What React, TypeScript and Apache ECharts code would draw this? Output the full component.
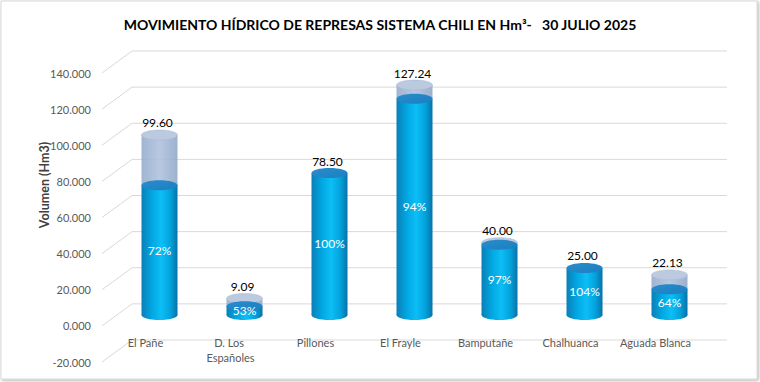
import React, { useEffect, useRef } from "react";
import * as echarts from "echarts";

const title = "MOVIMIENTO HÍDRICO DE REPRESAS SISTEMA CHILI EN Hm³-   30 JULIO 2025";
const yAxisName = "Volumen (Hm3)";
const categories = ["El Pañe", "D. Los Españoles", "Pillones", "El Frayle", "Bamputañe", "Chalhuanca", "Aguada Blanca"];
const capacity = [99.6, 9.09, 78.5, 127.24, 40.0, 25.0, 22.13];
const volume = [71.7, 4.8, 78.5, 119.6, 38.8, 26.0, 14.2];
const percent = [72, 53, 100, 94, 97, 104, 64];
const yTicks = [-20, 0, 20, 40, 60, 80, 100, 120, 140];

const FONT = "Lato, 'Open Sans', sans-serif";
const DX = 30;
const DY = -22;
const RX = 18;
const RY = 5;

export default function App() {
  const ref = useRef<HTMLDivElement>(null);
  useEffect(() => {
    if (!ref.current) return;
    const chart = echarts.init(ref.current, undefined, { renderer: "svg" });
    const n = categories.length;

    const bodyGrad = () =>
      new echarts.graphic.LinearGradient(0, 0, 1, 0, [
        { offset: 0, color: "#0a7fb8" },
        { offset: 0.3, color: "#02a8e2" },
        { offset: 0.55, color: "#0dbef6" },
        { offset: 0.8, color: "#03a2dc" },
        { offset: 1, color: "#0772a8" },
      ]);
    const grayGrad = () =>
      new echarts.graphic.LinearGradient(0, 0, 1, 0, [
        { offset: 0, color: "rgba(150,172,204,0.9)" },
        { offset: 0.5, color: "rgba(176,194,222,0.9)" },
        { offset: 1, color: "rgba(146,168,200,0.9)" },
      ]);

    const gridData = yTicks.map((v) => [0, v]);
    const cylData = categories.map((_, i) => [i, volume[i], capacity[i], percent[i]]);

    const option: any = {
      animation: false,
      backgroundColor: "transparent",
      title: {
        text: title,
        left: "center",
        top: 12,
        textStyle: { fontFamily: FONT, fontSize: 14, fontWeight: "bold", color: "#000" },
      },
      grid: { left: 102, right: 63, top: 73, bottom: 20 },
      xAxis: {
        type: "category",
        data: categories,
        show: false,
      },
      yAxis: {
        type: "value",
        min: yTicks[0],
        max: yTicks[yTicks.length - 1],
        interval: yTicks[1] - yTicks[0],
        axisLine: { show: false },
        axisTick: { show: false },
        splitLine: { show: false },
        axisLabel: {
          margin: 11,
          color: "#595959",
          fontFamily: FONT,
          fontSize: 11,
          formatter: (v: number) => v.toFixed(3),
        },
      },
      graphic: [
        {
          type: "rect",
          shape: { x: 1, y: 1, width: 756, height: 378 },
          style: { fill: "#fff", stroke: "#d9d9d9", lineWidth: 1, shadowBlur: 3, shadowOffsetX: 1, shadowOffsetY: 1, shadowColor: "rgba(0,0,0,0.35)" },
          z: -10,
          silent: true,
        },
        {
          type: "text",
          x: 44,
          y: 185,
          rotation: Math.PI / 2,
          style: {
            text: yAxisName,
            fill: "#404040",
            font: `bold 12.5px ${FONT}`,
            align: "center",
            verticalAlign: "middle",
          },
        },
      ],
      series: [
        {
          type: "custom",
          z: 1,
          silent: true,
          data: gridData,
          renderItem: (params: any, api: any) => {
            const v = api.value(1);
            const band = api.size([1, 0])[0];
            const p0 = api.coord([0, v]);
            const p1 = api.coord([n - 1, v]);
            const x0 = p0[0] - band / 2;
            const x1 = p1[0] + band / 2;
            const y = p0[1];
            return {
              type: "polyline",
              shape: { points: [[x0, y], [x0 + DX, y + DY], [x1 + DX, y + DY]] },
              style: { stroke: "#d9d9d9", lineWidth: 1, fill: null },
            };
          },
        },
        {
          type: "custom",
          z: 2,
          silent: true,
          data: categories.map((c, i) => [i, yTicks[0]]),
          renderItem: (params: any, api: any) => {
            const i = params.dataIndex;
            const p = api.coord([i, 0]);
            const pb = api.coord([i, yTicks[0]]);
            return {
              type: "text",
              style: {
                text: categories[i],
                x: p[0] + 1,
                y: (p[1] + pb[1]) / 2 - 9,
                width: 74,
                overflow: "break",
                fill: "#595959",
                font: `11px ${FONT}`,
                align: "center",
                verticalAlign: "top",
                lineHeight: 15,
              },
            };
          },
        },
        {
          type: "custom",
          z: 3,
          silent: true,
          data: cylData,
          renderItem: (params: any, api: any) => {
            const i = api.value(0);
            const vol = api.value(1);
            const cap = api.value(2);
            const pct = api.value(3);
            const base = api.coord([i, 0]);
            const xc = base[0] + DX / 2;
            const y0 = base[1] + DY / 2;
            const yv = api.coord([i, vol])[1] + DY / 2;
            const yc = api.coord([i, cap])[1] + DY / 2;
            const children: any[] = [];
            if (cap > vol) {
              children.push({
                type: "rect",
                shape: { x: xc - RX, y: yc, width: RX * 2, height: yv - yc },
                style: { fill: grayGrad() },
              });
              children.push({
                type: "ellipse",
                shape: { cx: xc, cy: yc, rx: RX, ry: RY },
                style: { fill: "#bccae0", stroke: "rgba(160,180,210,0.9)", lineWidth: 0.5 },
              });
            }
            children.push({
              type: "ellipse",
              shape: { cx: xc, cy: y0, rx: RX, ry: RY },
              style: { fill: bodyGrad() },
            });
            children.push({
              type: "rect",
              shape: { x: xc - RX, y: yv, width: RX * 2, height: y0 - yv },
              style: { fill: bodyGrad() },
            });
            children.push({
              type: "ellipse",
              shape: { cx: xc, cy: yv, rx: RX, ry: RY },
              style: {
                fill: new echarts.graphic.LinearGradient(0, 0, 1, 1, [
                  { offset: 0, color: "#2a8ccc" },
                  { offset: 1, color: "#1a7fc0" },
                ]),
              },
            });
            const topY = Math.min(yc, yv);
            children.push({
              type: "text",
              style: {
                text: cap.toFixed(2),
                x: xc - 2,
                y: topY - 12,
                fill: "#000",
                font: `12px ${FONT}`,
                align: "center",
                verticalAlign: "middle",
              },
            });
            children.push({
              type: "text",
              style: {
                text: `${pct}%`,
                x: xc,
                y: (yv + y0) / 2,
                fill: "#fff",
                font: `12px ${FONT}`,
                align: "center",
                verticalAlign: "middle",
              },
            });
            return { type: "group", children };
          },
        },
      ],
    };
    chart.setOption(option);
    return () => chart.dispose();
  }, []);
  return <div ref={ref} style={{ position: "absolute", left: 0, top: 0, width: 760, height: 382 }} />;
}
